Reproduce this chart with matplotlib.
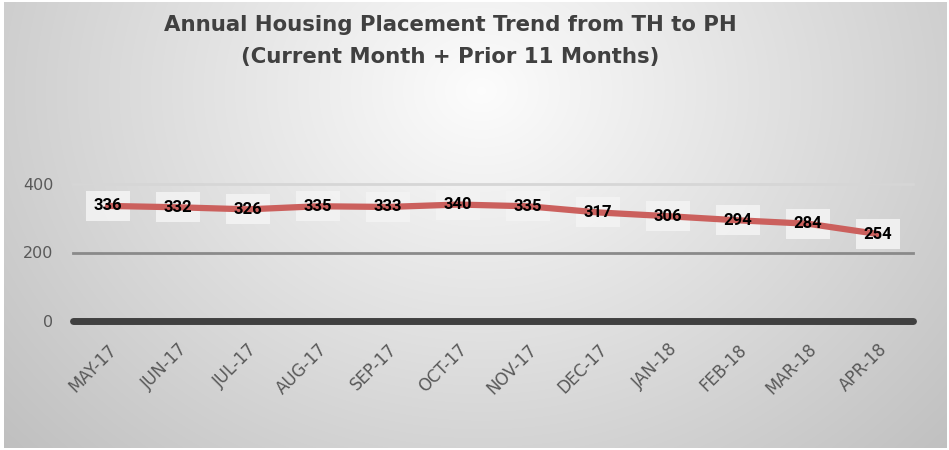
import numpy as np
import matplotlib
matplotlib.use("Agg")
import matplotlib.pyplot as plt

months = ["MAY-17", "JUN-17", "JUL-17", "AUG-17", "SEP-17", "OCT-17",
          "NOV-17", "DEC-17", "JAN-18", "FEB-18", "MAR-18", "APR-18"]
placements = [336, 332, 326, 335, 333, 340, 335, 317, 306, 294, 284, 254]
yticks = [0, 200, 400]

W, H = 949, 450
fig = plt.figure(figsize=(W / 100, H / 100), dpi=100)
fig.patch.set_facecolor("white")

# radial gradient background
bg = fig.add_axes([4 / W, 2 / H, 1 - 6 / W, 1 - 4 / H])
bg.set_axis_off()
yy, xx = np.mgrid[0:H, 0:W]
cx, cy = 480, 90
d = np.sqrt(((xx - cx) / 620.0) ** 2 + ((yy - cy) / 520.0) ** 2)
v = np.clip(0.99 - 0.23 * d, 0.74, 1.0)
bg.imshow(np.dstack([v, v, v]), aspect="auto", extent=[0, 1, 0, 1], zorder=0)
bg.set_xlim(0, 1)
bg.set_ylim(0, 1)

L, R = 73 / W, 913 / W
B, T = 1 - 321 / H, 1 - 184 / H
ax = fig.add_axes([L, B, R - L, T - B])
ax.patch.set_alpha(0)
x = np.arange(len(months))
ax.set_xlim(-0.5, len(months) - 0.5)
ax.set_ylim(0, 400)

# gridlines
ax.axhline(400, color="#d6d6d6", lw=2, zorder=1, clip_on=False)
ax.axhline(200, color="#8a8a8a", lw=2, zorder=1, clip_on=False)
ax.axhline(0, color="#404040", lw=5, zorder=2, clip_on=False, solid_capstyle="round")

# label boxes (below the line)
for xi, yi in zip(x, placements):
    ax.text(xi, yi, str(yi), ha="center", va="center", fontsize=12,
            fontweight="bold", color="none", zorder=2.5,
            family=["Roboto", "DejaVu Sans"],
            bbox=dict(boxstyle="square,pad=0.45", fc="#f3f3f3", ec="none", alpha=0.9))

ax.plot(x, placements, color="#cb605d", lw=4.5, zorder=3, solid_capstyle="round",
        solid_joinstyle="round", clip_on=False)

# label text (above the line)
for xi, yi in zip(x, placements):
    ax.text(xi, yi, str(yi), ha="center", va="center", fontsize=12,
            fontweight="bold", color="black", zorder=4,
            family=["Roboto", "DejaVu Sans"])

for s in ax.spines.values():
    s.set_visible(False)
ax.set_yticks(yticks)
ax.set_yticklabels([str(t) for t in yticks], fontsize=11.5, color="#595959",
                   family=["DejaVu Sans"])
ax.set_xticks(x)
ax.set_xticklabels(months, rotation=45, ha="right", rotation_mode="anchor",
                   fontsize=12, color="#595959", family=["DejaVu Sans"])
ax.tick_params(axis="both", length=0)
ax.tick_params(axis="y", pad=14)
ax.tick_params(axis="x", pad=14)

fig.text(450 / W, 1 - 25 / H, "Annual Housing Placement Trend from TH to PH",
         ha="center", va="center", fontsize=15.3, fontweight="bold", color="#404040",
         family=["DejaVu Sans"])
fig.text(450 / W, 1 - 57 / H, "(Current Month + Prior 11 Months)",
         ha="center", va="center", fontsize=15.3, fontweight="bold", color="#404040",
         family=["DejaVu Sans"])

fig.savefig("out.png", dpi=100)
